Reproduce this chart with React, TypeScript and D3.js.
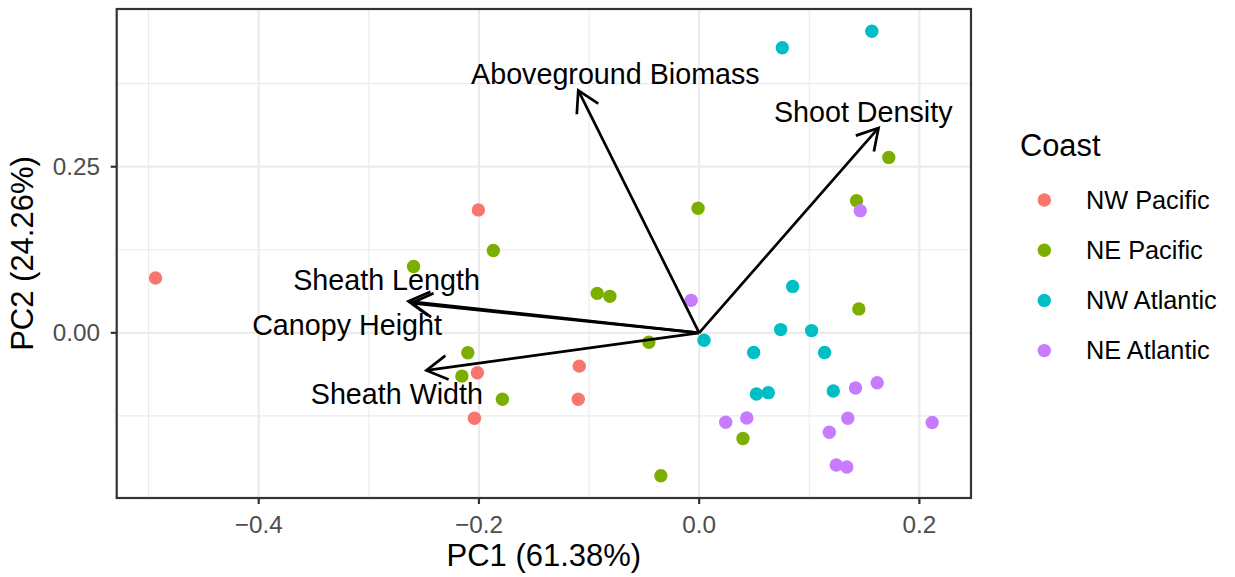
import React from "react";
import * as d3 from "d3";

// ---------- data ----------
const coasts = ["NW Pacific", "NE Pacific", "NW Atlantic", "NE Atlantic"];
const coastColors = ["#F8766D", "#7CAE00", "#00BFC4", "#C77CFF"];

const nwPacificPC1 = [-0.4937, -0.2005, -0.1089, -0.1098, -0.2014, -0.2041];
const nwPacificPC2 = [0.0825, 0.185, -0.0501, -0.1, -0.06, -0.1285];

const nePacificPC1 = [-0.1869, -0.2594, -0.001, 0.1722, 0.1429, -0.0926, -0.0811, -0.0457, 0.145, -0.2101, -0.2155, -0.1787, 0.0398, -0.0348];
const nePacificPC2 = [0.1239, 0.0999, 0.1875, 0.264, 0.1989, 0.0594, 0.0549, -0.0141, 0.036, -0.03, -0.0651, -0.1, -0.159, -0.2151];

const nwAtlanticPC1 = [0.0755, 0.1568, 0.0849, 0.074, 0.1021, 0.0044, 0.0495, 0.1139, 0.052, 0.0628, 0.1218];
const nwAtlanticPC2 = [0.429, 0.4539, 0.0699, 0.0049, 0.0034, -0.0111, -0.0295, -0.0295, -0.0921, -0.09, -0.0876];

const neAtlanticPC1 = [-0.0073, 0.1463, 0.142, 0.1617, 0.0241, 0.0432, 0.135, 0.1182, 0.2116, 0.1245, 0.1341];
const neAtlanticPC2 = [0.0489, 0.1839, -0.0831, -0.075, -0.1345, -0.1281, -0.1285, -0.1495, -0.135, -0.199, -0.202];

const variables = ["Aboveground Biomass", "Shoot Density", "Sheath Length", "Canopy Height", "Sheath Width"];
const loadingPC1 = [-0.1098, 0.1629, -0.264, -0.2611, -0.2477];
const loadingPC2 = [0.365, 0.3084, 0.0474, 0.0447, -0.0565];
const labelPC1 = [-0.0761, 0.149, -0.2839, -0.3198, -0.2745];
const labelPC2 = [0.3747, 0.3174, 0.0639, -0.0026, -0.1075];

const xMajorTicks = [-0.4, -0.2, 0.0, 0.2];
const xTickLabels = ["\u22120.4", "\u22120.2", "0.0", "0.2"];
const xMinorTicks = [-0.5, -0.3, -0.1, 0.1];
const yMajorTicks = [0.0, 0.25];
const yTickLabels = ["0.00", "0.25"];
const yMinorTicks = [-0.125, 0.125, 0.375];

const xTitle = "PC1 (61.38%)";
const yTitle = "PC2 (24.26%)";
const legendTitle = "Coast";

const seriesX = [nwPacificPC1, nePacificPC1, nwAtlanticPC1, neAtlanticPC1];
const seriesY = [nwPacificPC2, nePacificPC2, nwAtlanticPC2, neAtlanticPC2];

// ---------- layout ----------
const W = 1235;
const H = 577;
const panel = { left: 116.7, right: 971, top: 9, bottom: 498 };
const FONT = "'Liberation Sans', Arial, Helvetica, sans-serif";

export default function App() {
  const allX = seriesX.flat();
  const allY = seriesY.flat();
  const [x0, x1] = d3.extent(allX) as [number, number];
  const [y0, y1] = d3.extent(allY) as [number, number];
  const ex = (x1 - x0) * 0.05;
  const ey = (y1 - y0) * 0.05;

  const x = d3.scaleLinear().domain([x0 - ex, x1 + ex]).range([panel.left, panel.right]);
  const y = d3.scaleLinear().domain([y0 - ey, y1 + ey]).range([panel.bottom, panel.top]);

  const arrowLen = 24;
  const arrowAng = (30 * Math.PI) / 180;

  const points: { cx: number; cy: number; color: string; key: string }[] = [];
  seriesX.forEach((xs, si) => {
    xs.forEach((v, i) => {
      points.push({ cx: x(v), cy: y(seriesY[si][i]), color: coastColors[si], key: `${si}-${i}` });
    });
  });

  const ox = x(0);
  const oy = y(0);

  return (
    <svg
      width={W}
      height={H}
      style={{ position: "absolute", left: 0, top: 0, background: "#fff" }}
      fontFamily={FONT}
    >
      <rect x={0} y={0} width={W} height={H} fill="#fff" />
      {/* grid */}
      <g>
        {xMinorTicks.map((t) => (
          <line key={"xm" + t} x1={x(t)} x2={x(t)} y1={panel.top} y2={panel.bottom} stroke="#EBEBEB" strokeWidth={1.1} />
        ))}
        {yMinorTicks.map((t) => (
          <line key={"ym" + t} y1={y(t)} y2={y(t)} x1={panel.left} x2={panel.right} stroke="#EBEBEB" strokeWidth={1.1} />
        ))}
        {xMajorTicks.map((t) => (
          <line key={"xM" + t} x1={x(t)} x2={x(t)} y1={panel.top} y2={panel.bottom} stroke="#EBEBEB" strokeWidth={2.2} />
        ))}
        {yMajorTicks.map((t) => (
          <line key={"yM" + t} y1={y(t)} y2={y(t)} x1={panel.left} x2={panel.right} stroke="#EBEBEB" strokeWidth={2.2} />
        ))}
      </g>

      {/* points */}
      <g>
        {points.map((p) => (
          <circle key={p.key} cx={p.cx} cy={p.cy} r={6.7} fill={p.color} />
        ))}
      </g>

      {/* arrows */}
      <g stroke="#000" strokeWidth={2.7} fill="none">
        {variables.map((v, i) => {
          const tx = x(loadingPC1[i]);
          const ty = y(loadingPC2[i]);
          const dx = ox - tx;
          const dy = oy - ty;
          const len = Math.hypot(dx, dy);
          const ux = dx / len;
          const uy = dy / len;
          const rot = (a: number) => [
            tx + arrowLen * (ux * Math.cos(a) - uy * Math.sin(a)),
            ty + arrowLen * (ux * Math.sin(a) + uy * Math.cos(a)),
          ];
          const b1 = rot(arrowAng);
          const b2 = rot(-arrowAng);
          return (
            <g key={v}>
              <line x1={ox} y1={oy} x2={tx} y2={ty} />
              <polyline points={`${b1[0]},${b1[1]} ${tx},${ty} ${b2[0]},${b2[1]}`} />
            </g>
          );
        })}
      </g>

      {/* labels */}
      <g fontSize={28.7} fill="#000" textAnchor="middle">
        {variables.map((v, i) => (
          <text key={v} x={x(labelPC1[i])} y={y(labelPC2[i])}>
            {v}
          </text>
        ))}
      </g>

      {/* panel border */}
      <rect
        x={panel.left}
        y={panel.top}
        width={panel.right - panel.left}
        height={panel.bottom - panel.top}
        fill="none"
        stroke="#333333"
        strokeWidth={2.2}
      />

      {/* x axis */}
      <g>
        {xMajorTicks.map((t, i) => (
          <g key={"xt" + t}>
            <line x1={x(t)} x2={x(t)} y1={panel.bottom} y2={panel.bottom + 6} stroke="#333333" strokeWidth={2.2} />
            <text x={x(t)} y={532.5} textAnchor="middle" fontSize={24.3} fill="#4D4D4D">
              {xTickLabels[i]}
            </text>
          </g>
        ))}
        <text x={(panel.left + panel.right) / 2} y={566} textAnchor="middle" fontSize={31} fill="#000">
          {xTitle}
        </text>
      </g>

      {/* y axis */}
      <g>
        {yMajorTicks.map((t, i) => (
          <g key={"yt" + t}>
            <line x1={panel.left - 6} x2={panel.left} y1={y(t)} y2={y(t)} stroke="#333333" strokeWidth={2.2} />
            <text x={100} y={y(t) + 8.5} textAnchor="end" fontSize={24.3} fill="#4D4D4D">
              {yTickLabels[i]}
            </text>
          </g>
        ))}
        <text
          transform={`translate(33.3, ${(panel.top + panel.bottom) / 2}) rotate(-90)`}
          textAnchor="middle"
          fontSize={31}
          fill="#000"
        >
          {yTitle}
        </text>
      </g>

      {/* legend */}
      <g>
        <text x={1020} y={156} fontSize={30.8} fill="#000">
          {legendTitle}
        </text>
        {coasts.map((c, i) => (
          <g key={c}>
            <circle cx={1044.3} cy={200 + i * 50.2} r={6.7} fill={coastColors[i]} />
            <text x={1086} y={200 + i * 50.2 + 8.7} fontSize={25.3} fill="#000">
              {c}
            </text>
          </g>
        ))}
      </g>
    </svg>
  );
}
